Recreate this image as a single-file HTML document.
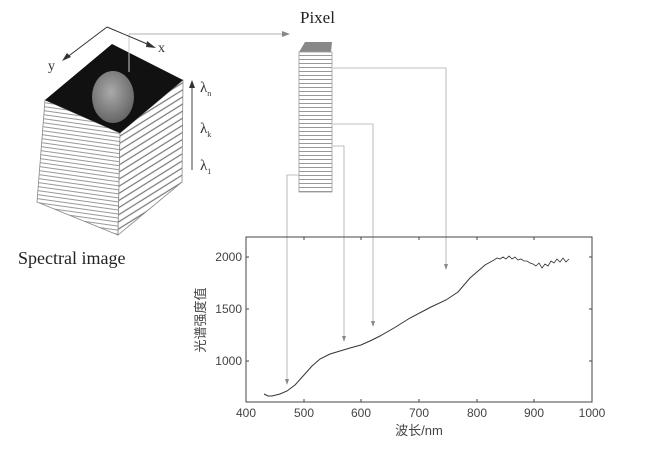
<!DOCTYPE html>
<html><head><meta charset="utf-8"><style>
html,body{margin:0;padding:0;background:#fff;}
svg{display:block}
</style></head><body>
<svg width="652" height="455" viewBox="0 0 652 455" xmlns="http://www.w3.org/2000/svg">
<defs>
<pattern id="st" width="4" height="4" patternUnits="userSpaceOnUse" patternTransform="rotate(8)"><rect width="4" height="4" fill="#fff"/><line x1="0" y1="3.5" x2="4" y2="3.5" stroke="#999" stroke-width="1"/></pattern>
<pattern id="stp" width="4" height="4" patternUnits="userSpaceOnUse"><rect width="4" height="4" fill="#fff"/><line x1="0" y1="3.5" x2="4" y2="3.5" stroke="#999" stroke-width="1"/></pattern>
<pattern id="st2" width="6" height="6" patternUnits="userSpaceOnUse" patternTransform="rotate(-32)"><rect width="6" height="6" fill="#fff"/><line x1="0" y1="5" x2="6" y2="5" stroke="#777" stroke-width="1.2"/></pattern>
<radialGradient id="fruit" cx="0.45" cy="0.4" r="0.6"><stop offset="0" stop-color="#aaa"/><stop offset="1" stop-color="#666"/></radialGradient>
</defs>
<!-- cube -->
<polygon points="45,100 120,133 118,235 37,202" fill="url(#st)" stroke="#888" stroke-width="0.8"/>
<polygon points="120,133 183,80 182,182 118,235" fill="url(#st2)" stroke="#888" stroke-width="0.8"/>
<polygon points="45,100 112,44 183,80 120,133" fill="#111"/>
<ellipse cx="113" cy="97" rx="21" ry="26" fill="url(#fruit)"/>
<line x1="129" y1="34" x2="129" y2="72" stroke="#ccc" stroke-width="1"/>
<line x1="129" y1="34" x2="285" y2="34" stroke="#999" stroke-width="0.8"/>
<polygon points="290,34 282,31 282,37" fill="#888"/>
<!-- axes -->
<line x1="107" y1="27" x2="152" y2="46" stroke="#333" stroke-width="1"/>
<polygon points="156,48 147,41 146,47" fill="#333"/>
<text x="158" y="52" font-family="Liberation Serif" font-size="14" fill="#333">x</text>
<line x1="107" y1="27" x2="66" y2="58" stroke="#333" stroke-width="1"/>
<polygon points="62,61 67,53 71,57" fill="#333"/>
<text x="48" y="70" font-family="Liberation Serif" font-size="14" fill="#333">y</text>
<!-- lambda -->
<line x1="192" y1="170" x2="192" y2="86" stroke="#444" stroke-width="1"/>
<polygon points="192,80 189,88 195,88" fill="#333"/>
<text x="200" y="92" font-family="Liberation Serif" font-size="15" fill="#333">λ<tspan font-size="8" dy="4">n</tspan></text>
<text x="200" y="133" font-family="Liberation Serif" font-size="15" fill="#333">λ<tspan font-size="8" dy="4">k</tspan></text>
<text x="200" y="170" font-family="Liberation Serif" font-size="15" fill="#333">λ<tspan font-size="8" dy="4">1</tspan></text>
<text x="18" y="264" font-family="Liberation Serif" font-size="18" fill="#222">Spectral image</text>
<!-- pixel -->
<text x="300" y="23" font-family="Liberation Serif" font-size="17" fill="#222">Pixel</text>
<polygon points="299,52 305,42 332,42 331,52" fill="#888"/>
<rect x="299" y="52" width="33" height="140" fill="url(#stp)" stroke="#999" stroke-width="0.8"/>
<g fill="none" stroke="#aaa" stroke-width="0.8">
<polyline points="333,68 446,68 446,265"/>
<polyline points="333,124 373,124 373,322"/>
<polyline points="333,146 344,146 344,337"/>
<polyline points="299,175 287,175 287,380"/>
</g>
<g fill="#888"><polygon points="446,270 444,264 448,264"/><polygon points="373,327 371,321 375,321"/><polygon points="344,342 342,336 346,336"/><polygon points="287,385 285,379 289,379"/></g>
<!-- plot -->
<rect x="246" y="237" width="346" height="165" fill="none" stroke="#444" stroke-width="1"/>
<g stroke="#444" stroke-width="1">
<line x1="304" y1="402" x2="304" y2="399"/><line x1="361" y1="402" x2="361" y2="399"/><line x1="419" y1="402" x2="419" y2="399"/><line x1="477" y1="402" x2="477" y2="399"/><line x1="534" y1="402" x2="534" y2="399"/>
<line x1="304" y1="237" x2="304" y2="240"/><line x1="361" y1="237" x2="361" y2="240"/><line x1="419" y1="237" x2="419" y2="240"/><line x1="477" y1="237" x2="477" y2="240"/><line x1="534" y1="237" x2="534" y2="240"/>
<line x1="246" y1="257" x2="249" y2="257"/><line x1="246" y1="309" x2="249" y2="309"/><line x1="246" y1="361" x2="249" y2="361"/>
<line x1="592" y1="257" x2="589" y2="257"/><line x1="592" y1="309" x2="589" y2="309"/><line x1="592" y1="361" x2="589" y2="361"/>
</g>
<g font-family="Liberation Sans" font-size="12" fill="#444" text-anchor="middle">
<text x="246" y="417">400</text><text x="304" y="417">500</text><text x="361" y="417">600</text><text x="419" y="417">700</text><text x="477" y="417">800</text><text x="534" y="417">900</text><text x="592" y="417">1000</text>
</g>
<g font-family="Liberation Sans" font-size="12" fill="#444" text-anchor="end">
<text x="242" y="261">2000</text><text x="242" y="313">1500</text><text x="242" y="365">1000</text>
</g>
<text x="419" y="435" font-family="Liberation Sans, Noto Sans CJK SC, sans-serif" font-size="13" fill="#444" text-anchor="middle">波长/nm</text>
<text transform="translate(205,320) rotate(-90)" font-family="Liberation Sans, Noto Sans CJK SC, sans-serif" font-size="13" fill="#444" text-anchor="middle">光谱强度值</text>
<polyline fill="none" stroke="#333" stroke-width="1" points="264,394 268,396 272,396 276,395 280,394 287,391 295,385 304,375 312,366 320,359 330,354 340,351 350,348 361,345 372,340 380,336 394,328 410,318 431,307 446,300 458,292 470,278 485,265 494,260"/>
<polyline fill="none" stroke="#333" stroke-width="0.8" points="494,260 497,258 500,259 503,257 506,259 509,256 512,259 515,257 518,260 521,259 524,261 527,261 530,263 533,264 536,266 539,263 542,268 545,264 548,266 551,261 554,263 557,259 560,262 563,258 566,262 569,259"/>
</svg>
</body></html>
